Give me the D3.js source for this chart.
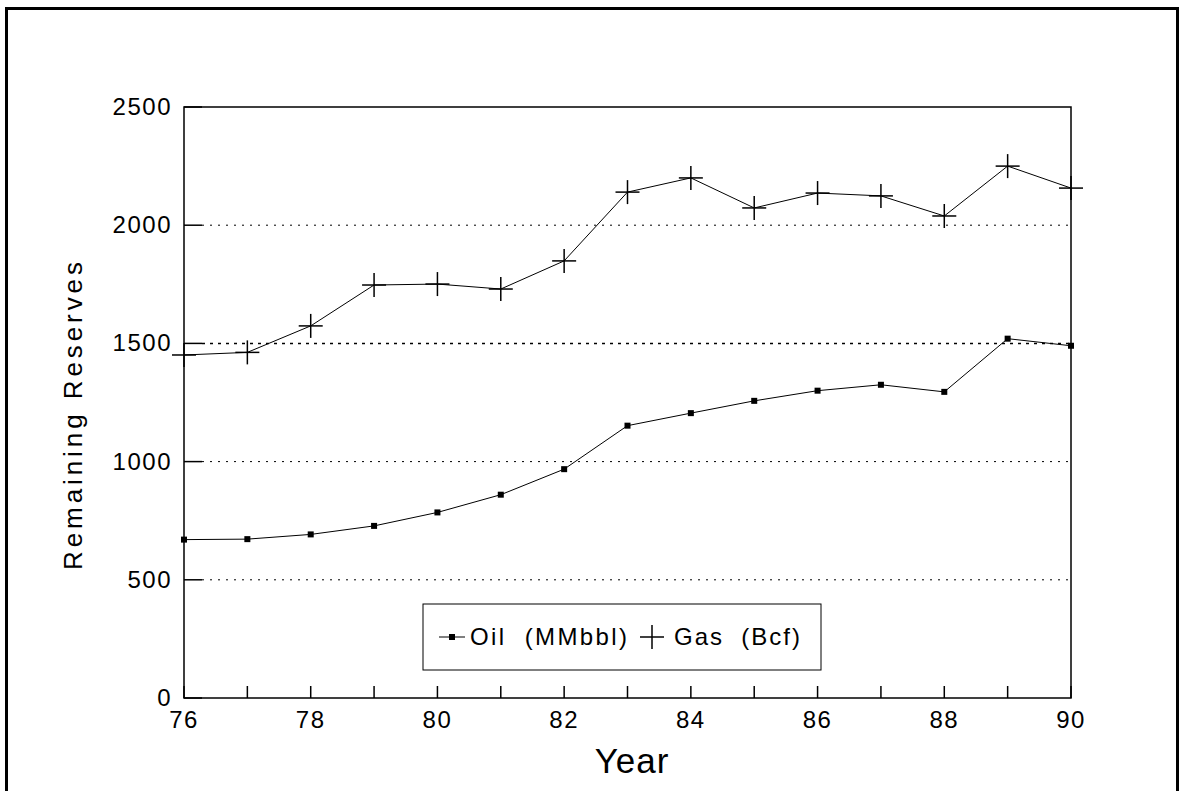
<!DOCTYPE html>
<html>
<head>
<meta charset="utf-8">
<script src="https://cdn.jsdelivr.net/npm/d3@7"></script>
<style>
  body { margin: 0; background: #fff; }
  text { font-family: Arial, "Liberation Sans", sans-serif; fill: #000; }
</style>
</head>
<body>
<svg id="chart" width="1183" height="791"></svg>
<script>
const years = [76, 77, 78, 79, 80, 81, 82, 83, 84, 85, 86, 87, 88, 89, 90];
const oil = [670, 672, 692, 728, 785, 860, 968, 1152, 1205, 1257, 1300, 1325, 1295, 1520, 1490];
const gas = [1451, 1462, 1574, 1747, 1751, 1730, 1849, 2140, 2200, 2073, 2136, 2124, 2039, 2250, 2157];
const yTicks = [0, 500, 1000, 1500, 2000, 2500];
const xTicks = [76, 78, 80, 82, 84, 86, 88, 90];

const svg = d3.select("#chart");
const plotLeft = 184, plotRight = 1071, plotTop = 107, plotBottom = 698;

// page frame
svg.append("path")
  .attr("d", "M6.5,795 V8.5 H1177.5 V795")
  .attr("fill", "none").attr("stroke", "#000").attr("stroke-width", 3);

const x = d3.scaleLinear().domain([76, 90]).range([plotLeft, plotRight]);
const y = d3.scaleLinear().domain([0, 2500]).range([plotBottom, plotTop]);

// grid lines
svg.append("g").selectAll("line")
  .data([500, 1000, 1500, 2000])
  .join("line")
  .attr("x1", plotLeft + 18).attr("x2", plotRight)
  .attr("y1", (d) => y(d)).attr("y2", (d) => y(d))
  .attr("stroke", "#000")
  .attr("stroke-width", (d) => (d === 1500 ? 1.5 : 1))
  .attr("stroke-dasharray", (d) => (d === 1500 ? "3,5" : "2,6"));

// plot box
svg.append("rect")
  .attr("x", plotLeft).attr("y", plotTop)
  .attr("width", plotRight - plotLeft).attr("height", plotBottom - plotTop)
  .attr("fill", "none").attr("stroke", "#000").attr("stroke-width", 1.5);

// y ticks (inside)
svg.append("g").selectAll("line")
  .data(yTicks)
  .join("line")
  .attr("x1", plotLeft).attr("x2", plotLeft + 18)
  .attr("y1", (d) => y(d)).attr("y2", (d) => y(d))
  .attr("stroke", "#000").attr("stroke-width", 1.5);

svg.append("g").selectAll("text")
  .data(yTicks)
  .join("text")
  .attr("x", plotLeft - 12).attr("y", (d) => y(d) + 8)
  .attr("text-anchor", "end").attr("font-size", 24)
  .attr("letter-spacing", 1.5)
  .text((d) => d);

// x ticks (inside, every year)
svg.append("g").selectAll("line")
  .data(years)
  .join("line")
  .attr("x1", (d) => x(d)).attr("x2", (d) => x(d))
  .attr("y1", plotBottom).attr("y2", plotBottom - 12)
  .attr("stroke", "#000").attr("stroke-width", 1.5);

svg.append("g").selectAll("text")
  .data(xTicks)
  .join("text")
  .attr("x", (d) => x(d)).attr("y", plotBottom + 30)
  .attr("text-anchor", "middle").attr("font-size", 24)
  .attr("letter-spacing", 1.5)
  .text((d) => d);

svg.append("text")
  .attr("x", 632).attr("y", 773)
  .attr("text-anchor", "middle")
  .attr("font-size", 35).attr("letter-spacing", 1)
  .text("Year");

svg.append("text")
  .attr("transform", `translate(82,570) rotate(-90)`)
  .attr("font-size", 26)
  .attr("textLength", 308).attr("lengthAdjust", "spacing")
  .text("Remaining Reserves");

const line = d3.line().x((d, i) => x(years[i])).y((d) => y(d));

svg.append("path").datum(oil).attr("d", line)
  .attr("fill", "none").attr("stroke", "#000").attr("stroke-width", 1);
svg.append("path").datum(gas).attr("d", line)
  .attr("fill", "none").attr("stroke", "#000").attr("stroke-width", 1);

svg.append("g").selectAll("rect")
  .data(oil)
  .join("rect")
  .attr("x", (d, i) => x(years[i]) - 3).attr("y", (d) => y(d) - 3)
  .attr("width", 6).attr("height", 6).attr("fill", "#000");

const plus = svg.append("g").selectAll("g")
  .data(gas)
  .join("g")
  .attr("transform", (d, i) => `translate(${x(years[i])},${y(d)})`);
plus.append("line").attr("x1", -12).attr("x2", 12).attr("stroke", "#000").attr("stroke-width", 1.5);
plus.append("line").attr("y1", -12).attr("y2", 12).attr("stroke", "#000").attr("stroke-width", 1.5);

// legend
const lg = svg.append("g").attr("transform", "translate(423,604)");
lg.append("rect").attr("width", 398).attr("height", 66)
  .attr("fill", "#fff").attr("stroke", "#000").attr("stroke-width", 1);
lg.append("line").attr("x1", 16).attr("x2", 42).attr("y1", 33).attr("y2", 33).attr("stroke", "#000");
lg.append("rect").attr("x", 26).attr("y", 30).attr("width", 6).attr("height", 6).attr("fill", "#000");
lg.append("text").attr("x", 47).attr("y", 41).attr("font-size", 24)
  .attr("xml:space", "preserve")
  .attr("textLength", 157).attr("lengthAdjust", "spacing")
  .text("Oil  (MMbbl)");
lg.append("line").attr("x1", 217).attr("x2", 241).attr("y1", 33).attr("y2", 33).attr("stroke", "#000").attr("stroke-width", 1.5);
lg.append("line").attr("x1", 229).attr("x2", 229).attr("y1", 21).attr("y2", 45).attr("stroke", "#000").attr("stroke-width", 1.5);
lg.append("text").attr("x", 251).attr("y", 41).attr("font-size", 24)
  .attr("xml:space", "preserve")
  .attr("textLength", 126).attr("lengthAdjust", "spacing")
  .text("Gas  (Bcf)");
</script>
</body>
</html>
